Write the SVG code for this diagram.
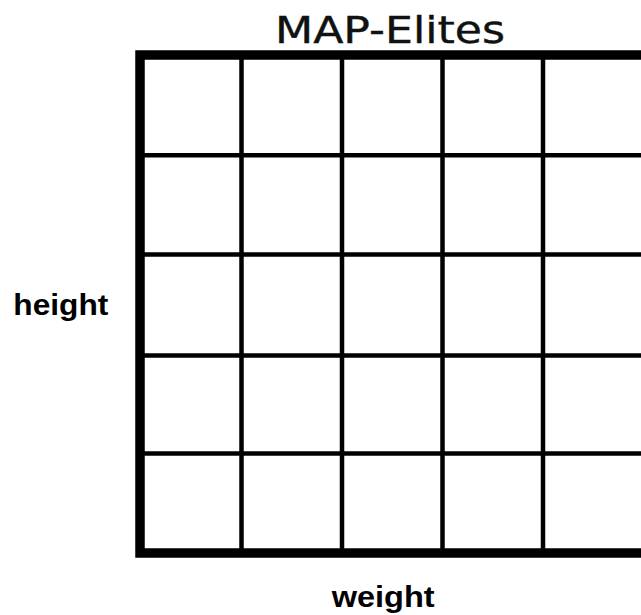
<svg xmlns="http://www.w3.org/2000/svg" width="641" height="615" viewBox="0 0 641 615">
  <style>
    .inner { stroke: #000; stroke-width: 4.5; fill: none; }
    .outer { stroke: #000; stroke-width: 9.5; fill: none; }
    .title { font-family: "DejaVu Sans", "Liberation Sans", sans-serif; font-size: 38px; fill: #111; stroke: #111; stroke-width: 0.4; }
    .axis { font-family: "Liberation Sans", "Open Sans", sans-serif; font-weight: bold; font-size: 30px; fill: #000; }
  </style>
  <rect width="641" height="615" fill="#fff"/>
  <g id="grid">
    <g id="inner-lines" class="inner">
      <line x1="241.5" y1="55" x2="241.5" y2="553"/>
      <line x1="342" y1="55" x2="342" y2="553"/>
      <line x1="442.5" y1="55" x2="442.5" y2="553"/>
      <line x1="543" y1="55" x2="543" y2="553"/>
      <line x1="140" y1="155.3" x2="650" y2="155.3"/>
      <line x1="140" y1="254.5" x2="650" y2="254.5"/>
      <line x1="140" y1="355.5" x2="650" y2="355.5"/>
      <line x1="140" y1="453.5" x2="650" y2="453.5"/>
    </g>
    <g id="border" class="outer">
      <path d="M 650 55 H 140 V 553 H 650"/>
    </g>
  </g>
  <g id="labels">
    <text id="title" class="title" x="275" y="43.3" textLength="230" lengthAdjust="spacingAndGlyphs">MAP-Elites</text>
    <text id="y-label" class="axis" x="13.3" y="315" textLength="95" lengthAdjust="spacingAndGlyphs">height</text>
    <text id="x-label" class="axis" x="331.7" y="606.7" textLength="103" lengthAdjust="spacingAndGlyphs">weight</text>
  </g>
</svg>
